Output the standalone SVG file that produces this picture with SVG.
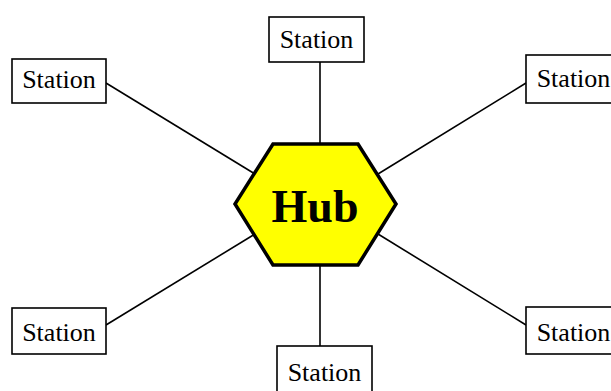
<svg xmlns="http://www.w3.org/2000/svg" width="611" height="391" viewBox="0 0 611 391">
<style>
.box{fill:#fff;stroke:#000;stroke-width:1.6}
.lbl{font-family:"Liberation Serif","Times New Roman",serif;font-size:26px;fill:#000;text-anchor:middle}
.conn{stroke:#000;stroke-width:1.6;fill:none}
.hub{fill:#ffff00;stroke:#000;stroke-width:3.5;stroke-linejoin:miter}
.hubt{font-family:"Liberation Serif","Times New Roman",serif;font-size:46px;font-weight:bold;fill:#000;text-anchor:middle}
</style>
<rect width="611" height="391" fill="#fff"/>
<g id="connectors">
<line class="conn" x1="320" y1="62" x2="320" y2="146"/>
<line class="conn" x1="320" y1="264" x2="320" y2="346"/>
<line class="conn" x1="106" y1="83" x2="255" y2="174"/>
<line class="conn" x1="526" y1="83" x2="378" y2="174"/>
<line class="conn" x1="106" y1="325" x2="255" y2="234"/>
<line class="conn" x1="526" y1="325" x2="378" y2="234"/>
</g>
<g id="hub">
<polygon class="hub" points="273,144 358,144 396,204 358,265 273,265 235,204"/>
<text class="hubt" x="315" y="222">Hub</text>
</g>
<g id="station-top">
<rect class="box" x="269" y="17" width="95" height="45"/>
<text class="lbl" x="316.5" y="48">Station</text>
</g>
<g id="station-top-left">
<rect class="box" x="12" y="59" width="94" height="44"/>
<text class="lbl" x="59" y="88">Station</text>
</g>
<g id="station-top-right">
<rect class="box" x="526" y="55" width="95" height="48"/>
<text class="lbl" x="573.5" y="87">Station</text>
</g>
<g id="station-bottom-left">
<rect class="box" x="12" y="308" width="94" height="46"/>
<text class="lbl" x="59" y="341">Station</text>
</g>
<g id="station-bottom-right">
<rect class="box" x="526" y="307" width="95" height="47"/>
<text class="lbl" x="573.5" y="341">Station</text>
</g>
<g id="station-bottom">
<rect class="box" x="277" y="346" width="95" height="50"/>
<text class="lbl" x="324.5" y="381">Station</text>
</g>
</svg>
